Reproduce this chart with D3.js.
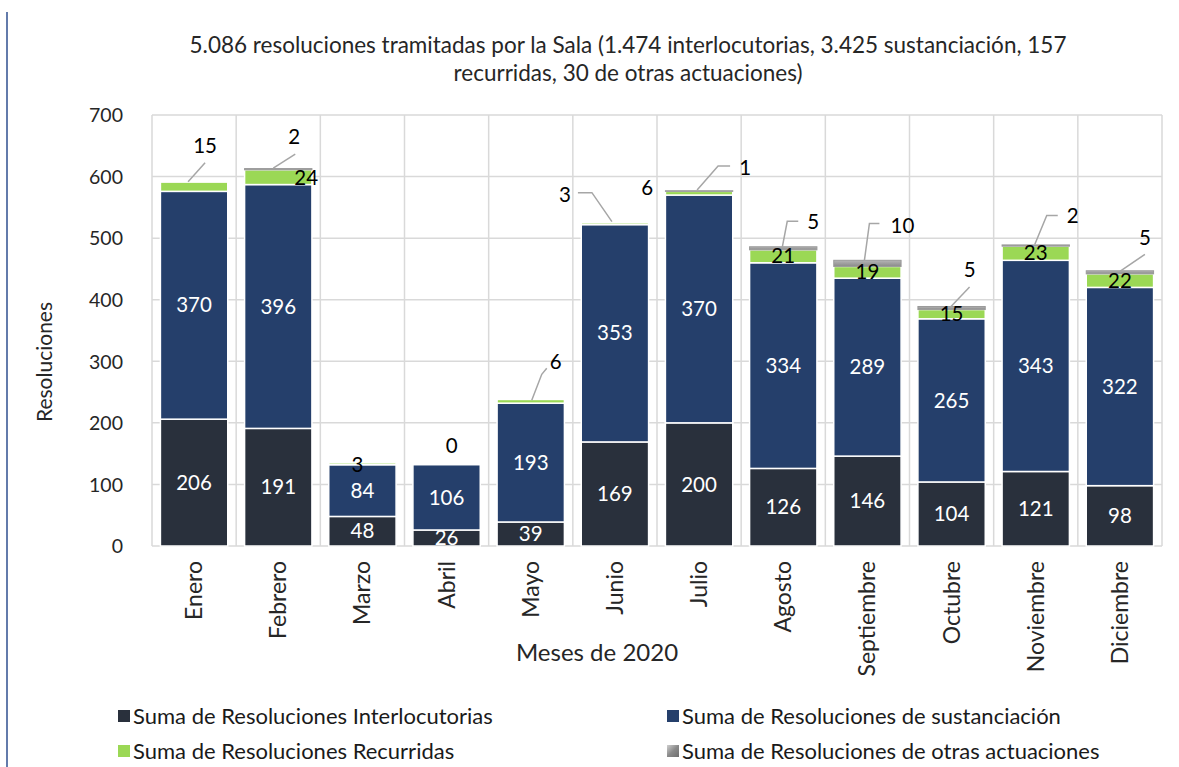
<!DOCTYPE html>
<html>
<head>
<meta charset="utf-8">
<script src="https://cdn.jsdelivr.net/npm/d3@7"></script>
<style>
  html, body { margin: 0; padding: 0; background: #fff; }
  svg { display: block; }
  text { font-family: Lato, "Open Sans", "Noto Sans", sans-serif; }
</style>
</head>
<body>
<svg id="chart" width="1179" height="767"></svg>
<script>
// ---------- DATA ----------
const months = ["Enero","Febrero","Marzo","Abril","Mayo","Junio","Julio","Agosto","Septiembre","Octubre","Noviembre","Diciembre"];
const interlocutorias = [206,191,48,26,39,169,200,126,146,104,121,98];
const sustanciacion   = [370,396,84,106,193,353,370,334,289,265,343,322];
const recurridas      = [15,24,3,0,6,3,6,21,19,15,23,22];
const otras           = [0,2,0,0,0,0,1,5,10,5,2,5];
const yTicks = [0,100,200,300,400,500,600,700];
const seriesNames = ["Suma de Resoluciones Interlocutorias","Suma de Resoluciones de sustanciación","Suma de Resoluciones Recurridas","Suma de Resoluciones de otras actuaciones"];
const titleLines = ["5.086 resoluciones tramitadas por la Sala (1.474 interlocutorias, 3.425 sustanciación,  157","recurridas, 30 de otras actuaciones)"];

// ---------- LAYOUT / STYLE ----------
const colors = ["#29303c","#253f6b","#9bd855","url(#grayGrad)"];
const svg = d3.select("#chart");
const defs = svg.append("defs");
const gg = defs.append("linearGradient").attr("id","grayGrad").attr("x1",0).attr("y1",0).attr("x2",0).attr("y2",1);
gg.append("stop").attr("offset","0%").attr("stop-color","#b5b5b5");
gg.append("stop").attr("offset","100%").attr("stop-color","#8a8a8a");
const lg = defs.append("linearGradient").attr("id","legGrad").attr("x1",0).attr("y1",0).attr("x2",1).attr("y2",1);
lg.append("stop").attr("offset","0%").attr("stop-color","#d0d0d0");
lg.append("stop").attr("offset","50%").attr("stop-color","#8a8a8a");
lg.append("stop").attr("offset","100%").attr("stop-color","#6e6e6e");

const plot = {left:152, right:1162, top:115, bottom:546};
const FONT = "Lato, 'Open Sans', sans-serif";

// page border line on the left
svg.append("line").attr("x1",7).attr("x2",7).attr("y1",12).attr("y2",767)
  .attr("stroke","#2f4f8f").attr("stroke-width",1.5);

const x = d3.scaleBand().domain(months).range([plot.left, plot.right]).paddingInner(0.2).paddingOuter(0.1);
const y = d3.scaleLinear().domain([0,700]).range([plot.bottom, plot.top]);
const step = x.step();

// gridlines
const grid = svg.append("g");
grid.selectAll("line.h").data(yTicks).join("line").attr("class","h")
  .attr("x1",plot.left).attr("x2",plot.right).attr("y1",d=>y(d)).attr("y2",d=>y(d))
  .attr("stroke","#d9d9d9").attr("stroke-width",1.5);
grid.selectAll("line.v").data(d3.range(months.length+1)).join("line").attr("class","v")
  .attr("x1",i=>plot.left + i*step).attr("x2",i=>plot.left + i*step)
  .attr("y1",plot.top).attr("y2",plot.bottom)
  .attr("stroke","#d9d9d9").attr("stroke-width",1.5);

// y axis
const yAxis = d3.axisLeft(y).tickValues(yTicks).tickSize(0).tickPadding(0);
const ya = svg.append("g").attr("transform",`translate(123,0)`).call(yAxis);
ya.select(".domain").remove();
ya.selectAll("text").attr("font-size",19.5).attr("fill","#262626").attr("dy","0.35em").attr("font-family",FONT);

// x axis
const xAxis = d3.axisBottom(x).tickSize(0).tickPadding(0);
const xa = svg.append("g").attr("transform",`translate(0,${plot.bottom})`).call(xAxis);
xa.select(".domain").remove();
xa.selectAll("text").attr("font-size",23).attr("fill","#262626")
  .attr("text-anchor","end").attr("transform","rotate(-90)")
  .attr("x",-15).attr("y",0).attr("dy","0.35em").attr("font-family",FONT);

// stacked data
const rows = months.map((m,i)=>({month:m, s0:interlocutorias[i], s1:sustanciacion[i], s2:recurridas[i], s3:otras[i]}));
const stack = d3.stack().keys(["s0","s1","s2","s3"])(rows);

const bars = svg.append("g");
stack.forEach((layer,k)=>{
  bars.append("g").selectAll("rect").data(layer).join("rect")
    .attr("x",d=>x(d.data.month))
    .attr("width",x.bandwidth())
    .attr("y",d=>y(d[1]))
    .attr("height",d=>Math.max(0,y(d[0])-y(d[1])))
    .attr("fill",colors[k])
    .attr("stroke", k===3 ? "#9a9a9a" : "#ffffff")
    .attr("stroke-width", k===3 ? 1 : 1.5)
    .attr("display", d=> (d[1]-d[0])>0 ? null : "none");
});

// labels: series 0 & 1 white inside
const labels = svg.append("g");
[0,1].forEach(k=>{
  labels.append("g").selectAll("text").data(stack[k]).join("text")
    .attr("x",d=>x(d.data.month)+x.bandwidth()/2)
    .attr("y",d=>y((d[0]+d[1])/2))
    .attr("dy","0.35em").attr("text-anchor","middle")
    .attr("font-size",20.5).attr("fill","#ffffff")
    .text(d=>d[1]-d[0]);
});

// recurridas / otras label placement (pixel offsets from segment middle)
const labelPlacement = [
  {i:0, k:2, t:[11,-41], lead:[[-6,-5],[11,-24]]},
  {i:1, k:3, t:[16,-32], lead:[[-5,-1],[17,-15]]},
  {i:1, k:2, t:[28,1]},
  {i:2, k:2, t:[-5,1]},
  {i:3, k:2, t:[5,-19]},
  {i:4, k:2, t:[25,-39], lead:[[1,-1],[11,-27],[16,-33]]},
  {i:5, k:2, t:[-50,-29], lead:[[-3,-2],[-23,-31],[-37,-31]]},
  {i:6, k:2, t:[-52,-5]},
  {i:6, k:3, t:[46,-23], lead:[[-2,-1],[19,-25],[31,-25]]},
  {i:7, k:2, t:[0,0]},
  {i:7, k:3, t:[30,-26], lead:[[-1,-1],[4,-27],[15,-27]]},
  {i:8, k:2, t:[0,0]},
  {i:8, k:3, t:[35,-38], lead:[[-3,-3],[2,-40],[12,-40]]},
  {i:9, k:2, t:[0,0]},
  {i:9, k:3, t:[18,-38], lead:[[-2,0],[18,-21]]},
  {i:10, k:2, t:[0,0]},
  {i:10, k:3, t:[37,-30], lead:[[-1,-1],[11,-30],[22,-30]]},
  {i:11, k:2, t:[0,0]},
  {i:11, k:3, t:[25,-34], lead:[[0,-1],[25,-18]]}
];
const line = d3.line();
labelPlacement.forEach(p=>{
  const d = stack[p.k][p.i];
  const cx = x(d.data.month)+x.bandwidth()/2;
  const cy = y((d[0]+d[1])/2);
  if (p.lead) {
    labels.append("path").attr("d", line(p.lead.map(o=>[cx+o[0], cy+o[1]])))
      .attr("fill","none").attr("stroke","#a6a6a6").attr("stroke-width",1.5);
  }
  labels.append("text").attr("x",cx+p.t[0]).attr("y",cy+p.t[1])
    .attr("dy","0.35em").attr("text-anchor","middle")
    .attr("font-size",20.5).attr("fill","#000000")
    .text(d[1]-d[0]);
});

// title
svg.append("g").selectAll("text").data(titleLines).join("text")
  .attr("x",628).attr("y",(d,i)=>45+i*28).attr("dy","0.35em").attr("text-anchor","middle")
  .attr("font-size",22.5).attr("fill","#262626").text(d=>d);

// axis titles
svg.append("text").attr("transform","translate(45,362) rotate(-90)").attr("text-anchor","middle")
  .attr("dy","0.35em").attr("font-size",21).attr("fill","#262626").text("Resoluciones");
svg.append("text").attr("x",597).attr("y",653).attr("text-anchor","middle")
  .attr("dy","0.35em").attr("font-size",24).attr("fill","#262626").text("Meses de 2020");

// legend
const legendPos = [[118,716],[667,716],[118,751],[667,751]];
const legendFill = [colors[0],colors[1],colors[2],"url(#legGrad)"];
const leg = svg.append("g");
seriesNames.forEach((n,k)=>{
  const [lx,ly] = legendPos[k];
  leg.append("rect").attr("x",lx).attr("y",ly-6).attr("width",12).attr("height",12).attr("fill",legendFill[k]);
  leg.append("text").attr("x",lx+15).attr("y",ly).attr("dy","0.35em")
    .attr("font-size",22).attr("fill","#1a1a1a").text(n);
});
</script>
</body>
</html>
